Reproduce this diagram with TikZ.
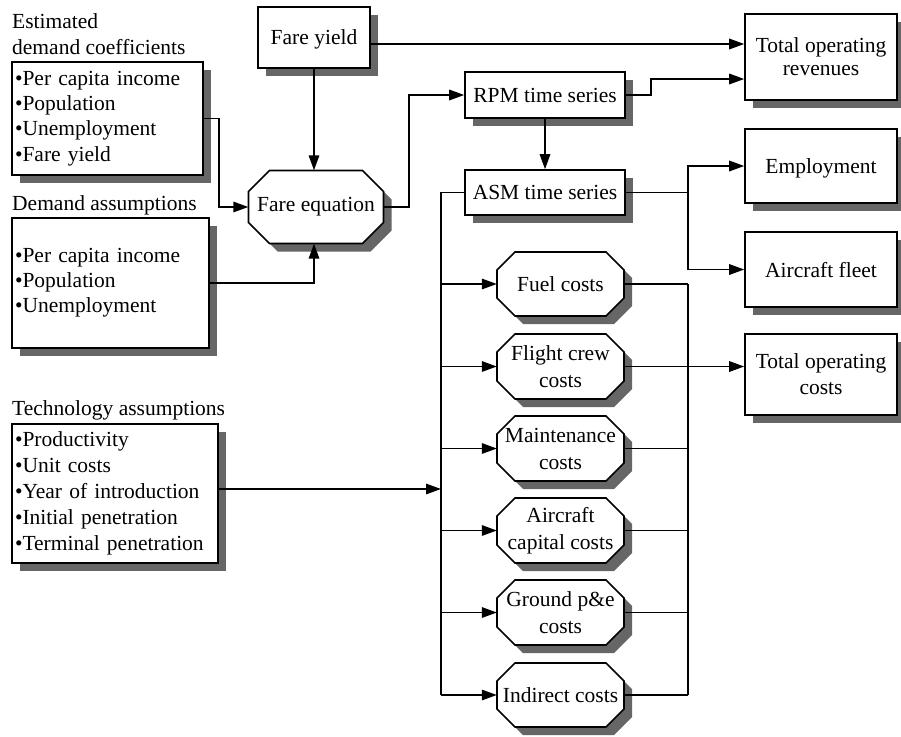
\documentclass[tikz,border=0pt]{standalone}
\usepackage{fontspec}
\setmainfont{Liberation Serif}
\usetikzlibrary{arrows.meta,shadows}

% octagon: name, cx, cy, half width, half height, chamfer, text
\newcommand\octa[7]{%
  \begin{scope}[shift={(#2,#3)}]
    \fill[shadowc, shift={(8,8)}] (-#4+#6,-#5) -- (#4-#6,-#5) -- (#4,-#5+#6) -- (#4,#5-#6) -- (#4-#6,#5) -- (-#4+#6,#5) -- (-#4,#5-#6) -- (-#4,-#5+#6) -- cycle;
    \filldraw[fill=white, draw=black, line width=1.6pt] (-#4+#6,-#5) -- (#4-#6,-#5) -- (#4,-#5+#6) -- (#4,#5-#6) -- (#4-#6,#5) -- (-#4+#6,#5) -- (-#4,#5-#6) -- (-#4,-#5+#6) -- cycle;
  \end{scope}
  \node[octtext, minimum width=2*#4pt, minimum height=2*#5pt] (#1) at (#2,#3) {#7};%
}

\begin{document}
\begin{tikzpicture}[x=1pt,y=-1pt,
  every node/.style={font=\fontsize{21.5}{26}\selectfont},
  shadowc/.style={fill=black!60},
  box/.style={draw, line width=1.6pt, fill=white, inner sep=0pt, align=center,
    general shadow={fill=black!60, shadow xshift=8pt, shadow yshift=-8pt}},
  onebox/.style={box, text depth=0pt},
  listbox/.style={box, align=left, inner xsep=3pt},
  lbl/.style={inner sep=0pt, align=left},
  octtext/.style={inner sep=0pt, align=center, font=\fontsize{21.5}{27}\selectfont},
  arr/.style={line width=1.6pt, -{Triangle[length=15pt,width=10.5pt]}},
  ln/.style={line width=1.6pt},
]
\useasboundingbox (0,0) rectangle (901,736);

% labels
\node[lbl, anchor=base west] (lcoef) at (12,54) {Estimated\\demand coefficients};
\node[lbl, anchor=base west] (ldem) at (12,210) {Demand assumptions};
\node[lbl, anchor=base west] (ltech) at (12,415) {Technology assumptions};

% list boxes
\node[listbox, minimum width=191pt, minimum height=113pt, text width=185pt,
  font=\fontsize{21.5}{25.3}\selectfont] (coef) at (107.5,118.5)
  {•Per capita income\\•Population\\•Unemployment\\•Fare yield};
\node[listbox, minimum width=197pt, minimum height=130pt, text width=191pt,
  font=\fontsize{21.5}{25}\selectfont] (dem) at (110.5,283)
  {•Per capita income\\•Population\\•Unemployment};
\node[listbox, minimum width=206pt, minimum height=139pt, text width=200pt,
  font=\fontsize{21.5}{26}\selectfont] (tech) at (115,493.5)
  {•Productivity\\•Unit costs\\•Year of introduction\\•Initial penetration\\•Terminal penetration};

% rectangular boxes
\node[onebox, minimum width=112pt, minimum height=61pt] (fareyield) at (314,37.5) {Fare yield};
\node[box, minimum width=152pt, minimum height=86pt, font=\fontsize{21.5}{23}\selectfont] (tor) at (821,57) {Total operating\\revenues};
\node[onebox, minimum width=160pt, minimum height=46pt] (rpm) at (545,95) {RPM time series};
\node[onebox, minimum width=160pt, minimum height=45pt] (asm) at (545,192.5) {ASM time series};
\node[onebox, minimum width=152pt, minimum height=74pt] (emp) at (821,166) {Employment};
\node[onebox, minimum width=152pt, minimum height=75pt] (fleet) at (821,269.5) {Aircraft fleet};
\node[box, minimum width=152pt, minimum height=81pt] (toc) at (821,374.5) {Total operating\\costs};

% octagons
\octa{fareeq}{316}{207}{67.5}{36.5}{21}{Fare equation}
\octa{fuel}{560.5}{284}{63.5}{32}{18}{Fuel costs}
\octa{crew}{560.5}{366.5}{63.5}{32.5}{18}{Flight crew\\costs}
\octa{maint}{560.5}{448.5}{63.5}{32.5}{18}{Maintenance\\costs}
\octa{acap}{560.5}{530.5}{63.5}{32.5}{18}{Aircraft\\capital costs}
\octa{ground}{560.5}{612.5}{63.5}{32.5}{18}{Ground p\&e\\costs}
\octa{indir}{560.5}{695}{63.5}{32}{18}{Indirect costs}

% bus coordinates
\coordinate (bl) at (441,0);
\coordinate (br) at (688,0);
\coordinate (t1) at ([yshift=13pt]tor.west);
\coordinate (techout) at ([yshift=4.5pt]tech.east);

% connectors
\draw[arr] (fareyield.south) -- (fareyield.south |- fareeq.north);
\draw[arr] (t1 -| fareyield.east) -- (t1);
\draw[arr] (rpm.east) -- ++(25,0) |- ([yshift=-22pt]tor.west);
\draw[arr] (rpm.south) -- (asm.north);
\draw[arr] (fareeq.east) -- ++(25,0) |- (rpm.west);
\draw[arr] (coef.east) -- ++(15,0) |- (fareeq.west);
\draw[arr] (dem.east) -| (fareyield.south |- fareeq.south);
\draw[ln] (asm.west) -| (bl |- indir.west);
\foreach \n in {fuel,crew,maint,acap,ground,indir} \draw[arr] (bl |- \n.west) -- (\n.west);
\draw[arr] (techout) -- (bl |- techout);
\draw[ln] (asm.east) -- (br |- asm.east);
\draw[arr] (br |- asm.east) |- (emp.west);
\draw[arr] (br |- asm.east) |- (fleet.west);
\foreach \n in {fuel,maint,acap,ground,indir} \draw[ln] (\n.east) -- (br |- \n.east);
\draw[ln] (br |- fuel.east) -- (br |- indir.east);
\draw[arr] (crew.east) -- (crew.east -| toc.west);
\end{tikzpicture}
\end{document}
